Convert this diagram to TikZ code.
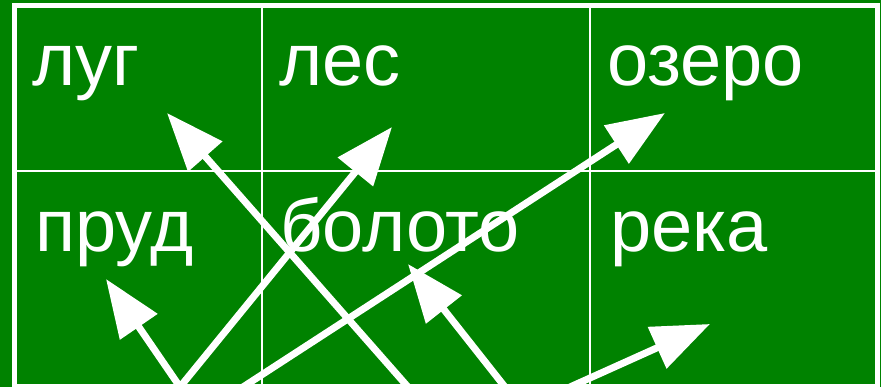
\documentclass[tikz,border=0pt]{standalone}
\usepackage{fontspec}
\setmainfont{Liberation Sans}
\usetikzlibrary{arrows.meta}
\definecolor{bggreen}{RGB}{0,130,0}
\tikzset{
  frame/.style={draw=white, line width=5pt},
  grid/.style={draw=white, line width=2pt},
  word/.style={text=white, anchor=base west, inner sep=0pt, font=\fontsize{74}{82}\selectfont},
  arr/.style={draw=white, line width=7pt, -{Triangle[length=58pt,width=44pt]}}
}
\begin{document}
\begin{tikzpicture}[x=1pt,y=-1pt]
\useasboundingbox (0,0) rectangle (881,387);
\fill[bggreen] (0,0) rectangle (881,387);
% table
\draw[grid] (261.5,5.5) -- (261.5,387);
\draw[grid] (589.5,5.5) -- (589.5,387);
\draw[grid] (14.5,171) -- (877,171);
\draw[frame] (14.5,386.5) -- (14.5,5.5) -- (877,5.5) -- (877,386.5) -- cycle;
% words
\node[word] (lug) at (32,86) {луг};
\node[word] (les) at (279,86) {лес};
\node[word] (ozero) at (607,86) {озеро};
\node[word] (prud) at (35,252) {пруд};
\node[word] (boloto) at (280,252) {болото};
\node[word] (reka) at (610,252) {река};
% arrow ends
\coordinate (s1) at (408,387);
\coordinate (s2) at (180,387);
\coordinate (s3) at (243,387);
\coordinate (s4) at (505,387);
\coordinate (s5) at (570,387);
\coordinate (tlug) at (167,113);
\coordinate (tles) at (392,127);
\coordinate (tprud) at (106,279);
\coordinate (tozero) at (665,113);
\coordinate (tboloto) at (408,264);
\coordinate (treka) at (710,324);
% arrows
\draw[arr] (s1) -- (tlug);
\draw[arr] (s2) -- (tles);
\draw[arr] (s2) -- (tprud);
\draw[arr] (s3) -- (tozero);
\draw[arr] (s4) -- (tboloto);
\draw[arr] (s5) -- (treka);
\end{tikzpicture}
\end{document}
